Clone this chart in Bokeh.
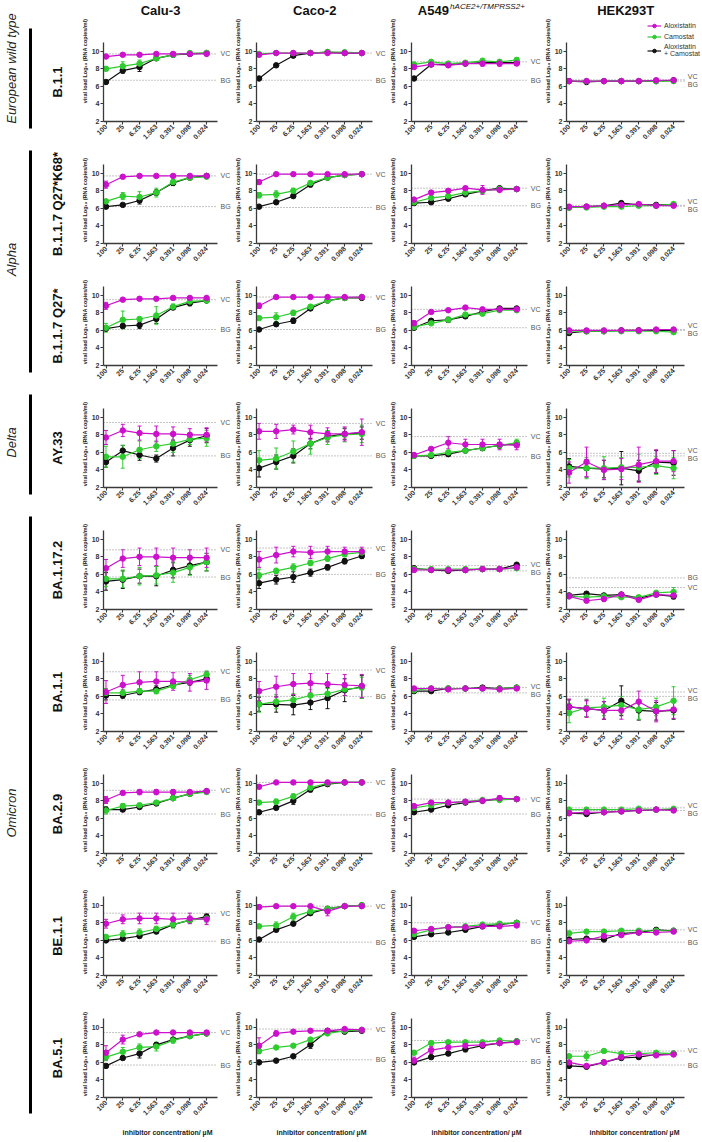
import numpy as np
from bokeh.plotting import figure
from bokeh.models import (Range1d, FixedTicker, Label, Whisker, TeeHead,
                          ColumnDataSource, Legend, LegendItem)
from bokeh.layouts import row, column
from bokeh.embed import file_html
from bokeh.resources import INLINE
from bokeh.core.properties import value

# ---------------------------------------------------------------- data
CONCENTRATIONS = ["100", "25", "6.25", "1.563", "0.391", "0.098", "0.024"]
CELL_LINES = ["Calu-3", "Caco-2", "A549", "HEK293T"]
VARIANTS = ["B.1.1", "B.1.1.7 Q27*K68*", "B.1.1.7 Q27*", "AY.33", "BA.1.17.2",
            "BA.1.1", "BA.2.9", "BE.1.1", "BA.5.1"]
LINEAGES = ["European wild type", "Alpha", "Delta", "Omicron"]
LINEAGE_ROWS = [(0, 0), (1, 2), (3, 3), (4, 8)]
SERIES = ["Aloxistatin", "Camostat", "Aloxistatin\n+ Camostat"]

# Calu-3: mean viral load (log10) per variant, and SD
CALU3_ALOX = [
    [9.4, 9.6, 9.6, 9.7, 9.7, 9.7, 9.7],
    [8.7, 9.6, 9.7, 9.7, 9.7, 9.7, 9.7],
    [8.8, 9.5, 9.6, 9.6, 9.7, 9.7, 9.7],
    [7.7, 8.5, 8.2, 8.1, 8.1, 8.0, 8.0],
    [6.7, 7.8, 8.0, 8.0, 7.9, 7.9, 7.9],
    [6.5, 7.3, 7.6, 7.7, 7.7, 7.6, 7.8],
    [8.1, 8.9, 9.0, 9.0, 9.0, 9.0, 9.1],
    [7.9, 8.4, 8.5, 8.5, 8.4, 8.5, 8.4],
    [7.1, 8.6, 9.2, 9.4, 9.4, 9.4, 9.4],
]
CALU3_ALOX_SD = [
    [0.1, 0.1, 0.1, 0.1, 0.1, 0.1, 0.1],
    [0.4, 0.1, 0.1, 0.1, 0.1, 0.1, 0.1],
    [0.4, 0.1, 0.2, 0.2, 0.1, 0.1, 0.1],
    [0.8, 0.7, 0.8, 0.9, 0.8, 0.7, 0.8],
    [1.0, 1.0, 1.0, 1.0, 1.1, 0.9, 1.1],
    [1.3, 1.1, 1.2, 1.1, 1.0, 1.0, 1.0],
    [0.4, 0.2, 0.3, 0.3, 0.3, 0.2, 0.2],
    [0.5, 0.5, 0.6, 0.6, 0.7, 0.6, 0.6],
    [0.8, 0.5, 0.1, 0.1, 0.1, 0.1, 0.2],
]
CALU3_CAMO = [
    [8.0, 8.3, 8.6, 9.2, 9.6, 9.8, 9.8],
    [6.8, 7.4, 7.3, 7.8, 9.0, 9.5, 9.6],
    [6.3, 7.2, 7.3, 7.7, 8.7, 9.3, 9.4],
    [5.5, 5.5, 6.3, 6.7, 7.0, 7.5, 7.6],
    [5.5, 5.5, 5.8, 5.9, 6.2, 6.8, 7.4],
    [6.4, 6.4, 6.6, 6.6, 7.2, 7.9, 8.5],
    [6.9, 7.4, 7.5, 7.8, 8.3, 8.8, 9.0],
    [6.4, 6.7, 6.9, 7.3, 7.8, 8.3, 8.5],
    [6.6, 7.2, 7.7, 7.8, 8.5, 9.0, 9.3],
]
CALU3_CAMO_SD = [
    [0.1, 0.5, 0.4, 0.1, 0.1, 0.1, 0.1],
    [0.2, 0.4, 0.6, 0.5, 0.3, 0.2, 0.1],
    [0.5, 1.0, 0.2, 1.0, 0.3, 0.2, 0.1],
    [1.2, 1.3, 1.0, 0.6, 1.0, 0.6, 0.9],
    [0.9, 1.0, 1.0, 1.0, 1.1, 0.9, 1.0],
    [0.5, 0.4, 0.3, 0.3, 0.3, 0.5, 0.4],
    [0.4, 0.3, 0.2, 0.2, 0.2, 0.1, 0.2],
    [0.2, 0.4, 0.4, 0.3, 0.4, 0.3, 0.5],
    [0.4, 0.5, 0.4, 0.5, 0.3, 0.1, 0.1],
]
CALU3_COMBO = [
    [6.5, 7.8, 8.2, 9.2, 9.6, 9.7, 9.8],
    [6.2, 6.4, 6.9, 7.8, 8.9, 9.5, 9.7],
    [6.2, 6.5, 6.6, 7.3, 8.6, 9.1, 9.4],
    [4.9, 6.2, 5.7, 5.3, 6.5, 7.4, 7.9],
    [5.2, 5.4, 5.8, 5.8, 6.5, 7.0, 7.4],
    [6.1, 6.1, 6.5, 6.8, 7.3, 7.6, 8.0],
    [7.0, 7.0, 7.3, 7.7, 8.3, 8.8, 9.1],
    [6.0, 6.2, 6.5, 7.0, 7.8, 8.3, 8.7],
    [5.6, 6.5, 7.0, 8.0, 8.6, 9.0, 9.3],
]
CALU3_COMBO_SD = [
    [0.1, 0.3, 0.5, 0.1, 0.1, 0.1, 0.1],
    [0.1, 0.1, 0.4, 0.3, 0.3, 0.2, 0.1],
    [0.1, 0.3, 0.4, 0.5, 0.2, 0.3, 0.1],
    [0.6, 0.6, 0.6, 0.4, 0.9, 0.7, 0.8],
    [1.0, 1.0, 0.8, 1.1, 0.9, 1.0, 1.0],
    [0.5, 0.3, 0.3, 0.4, 0.4, 0.3, 0.4],
    [0.3, 0.2, 0.2, 0.2, 0.2, 0.1, 0.1],
    [0.1, 0.1, 0.2, 0.2, 0.3, 0.3, 0.3],
    [0.1, 0.2, 0.5, 0.2, 0.2, 0.1, 0.1],
]
CALU3_VC = [9.7, 9.7, 9.5, 9.4, 8.8, 8.8, 9.2, 9.1, 9.4]
CALU3_BG = [6.7, 6.2, 6.1, 5.6, 5.7, 5.6, 6.5, 5.9, 5.7]

# Caco-2
CACO2_ALOX = [
    [9.6, 9.8, 9.8, 9.8, 9.8, 9.8, 9.8],
    [9.0, 9.9, 9.9, 9.9, 9.9, 9.9, 9.9],
    [8.8, 9.8, 9.8, 9.8, 9.8, 9.8, 9.8],
    [8.4, 8.4, 8.6, 8.3, 8.1, 8.1, 8.3],
    [7.7, 8.2, 8.6, 8.5, 8.6, 8.6, 8.6],
    [6.6, 7.1, 7.4, 7.5, 7.4, 7.3, 7.2],
    [9.6, 10.1, 10.1, 10.1, 10.1, 10.1, 10.1],
    [9.8, 9.9, 9.9, 9.9, 9.3, 9.9, 9.9],
    [7.9, 9.3, 9.5, 9.6, 9.6, 9.8, 9.7],
]
CACO2_ALOX_SD = [
    [0.1, 0.1, 0.1, 0.1, 0.1, 0.1, 0.1],
    [0.2, 0.1, 0.1, 0.1, 0.1, 0.1, 0.1],
    [0.3, 0.1, 0.1, 0.1, 0.1, 0.1, 0.1],
    [0.9, 0.8, 0.5, 0.8, 0.7, 0.8, 1.5],
    [0.9, 0.9, 0.6, 0.7, 0.6, 0.5, 0.5],
    [1.1, 1.2, 1.2, 1.1, 1.2, 1.2, 1.3],
    [0.1, 0.1, 0.1, 0.1, 0.1, 0.1, 0.1],
    [0.1, 0.1, 0.1, 0.1, 0.5, 0.1, 0.1],
    [0.9, 0.3, 0.1, 0.1, 0.1, 0.1, 0.1],
]
CACO2_CAMO = [
    [9.7, 9.8, 9.8, 9.8, 9.9, 9.9, 9.8],
    [7.5, 7.6, 8.0, 8.9, 9.5, 9.8, 9.9],
    [7.4, 7.5, 8.0, 8.7, 9.4, 9.7, 9.8],
    [5.1, 5.3, 6.1, 7.0, 7.7, 8.0, 8.1],
    [5.9, 6.4, 6.8, 7.3, 7.8, 8.3, 8.5],
    [5.1, 5.4, 5.6, 6.1, 6.3, 6.8, 7.0],
    [7.8, 7.9, 8.5, 9.5, 10.0, 10.1, 10.1],
    [7.6, 7.7, 8.7, 9.3, 9.6, 9.9, 10.0],
    [7.3, 7.7, 7.9, 8.6, 9.3, 9.6, 9.7],
]
CACO2_CAMO_SD = [
    [0.1, 0.1, 0.1, 0.1, 0.1, 0.1, 0.1],
    [0.3, 0.4, 0.3, 0.2, 0.1, 0.1, 0.1],
    [0.15, 0.5, 0.3, 0.2, 0.1, 0.1, 0.1],
    [1.1, 1.2, 1.2, 1.2, 0.8, 0.8, 1.0],
    [0.7, 0.3, 0.4, 0.3, 0.3, 0.3, 0.4],
    [0.9, 0.8, 0.7, 0.7, 0.6, 0.7, 1.2],
    [0.1, 0.3, 0.3, 0.3, 0.1, 0.1, 0.1],
    [0.1, 0.4, 0.4, 0.1, 0.1, 0.1, 0.1],
    [0.3, 0.1, 0.1, 0.1, 0.1, 0.1, 0.1],
]
CACO2_COMBO = [
    [6.9, 8.4, 9.5, 9.8, 9.9, 9.8, 9.8],
    [6.2, 6.7, 7.4, 8.7, 9.5, 9.8, 9.9],
    [6.1, 6.7, 7.1, 8.5, 9.4, 9.7, 9.7],
    [4.2, 4.9, 5.6, 7.0, 7.8, 8.1, 8.2],
    [5.0, 5.4, 5.7, 6.2, 6.8, 7.5, 8.1],
    [5.1, 5.1, 5.0, 5.3, 5.8, 6.7, 7.1],
    [6.7, 7.2, 8.0, 9.3, 9.9, 10.1, 10.1],
    [6.1, 7.2, 7.9, 9.1, 9.6, 9.9, 10.0],
    [6.0, 6.2, 6.7, 8.0, 9.6, 9.5, 9.6],
]
CACO2_COMBO_SD = [
    [0.1, 0.1, 0.1, 0.1, 0.1, 0.1, 0.1],
    [0.1, 0.2, 0.2, 0.1, 0.1, 0.1, 0.1],
    [0.1, 0.2, 0.3, 0.1, 0.1, 0.1, 0.1],
    [1.0, 0.8, 0.8, 0.6, 0.6, 0.6, 0.7],
    [0.6, 0.5, 0.6, 0.4, 0.3, 0.3, 0.3],
    [0.8, 0.9, 1.1, 0.8, 1.2, 1.3, 1.3],
    [0.1, 0.2, 0.4, 0.3, 0.1, 0.1, 0.1],
    [0.1, 0.1, 0.1, 0.1, 0.1, 0.1, 0.1],
    [0.2, 0.1, 0.1, 0.4, 0.1, 0.1, 0.1],
]
CACO2_VC = [9.8, 9.9, 9.8, 9.3, 9.0, 9.0, 10.1, 9.9, 9.8]
CACO2_BG = [6.7, 6.1, 6.1, 5.6, 6.0, 6.0, 6.4, 5.8, 6.3]

# A549 hACE2+/TMPRSS2+
A549_ALOX = [
    [8.2, 8.5, 8.4, 8.6, 8.6, 8.6, 8.6],
    [7.0, 7.8, 8.0, 8.3, 8.1, 8.1, 8.2],
    [6.8, 8.1, 8.3, 8.6, 8.4, 8.4, 8.4],
    [5.7, 6.4, 7.1, 6.9, 6.9, 6.9, 6.8],
    [6.5, 6.5, 6.5, 6.5, 6.6, 6.6, 6.8],
    [6.9, 6.9, 6.8, 6.9, 6.9, 6.8, 6.9],
    [7.4, 7.8, 7.8, 7.9, 8.0, 8.3, 8.2],
    [7.1, 7.3, 7.5, 7.5, 7.6, 7.6, 7.7],
    [6.2, 7.4, 7.7, 7.9, 8.0, 8.2, 8.3],
]
A549_ALOX_SD = [
    [0.1, 0.1, 0.2, 0.2, 0.3, 0.3, 0.2],
    [0.2, 0.2, 0.2, 0.2, 0.5, 0.1, 0.2],
    [0.3, 0.1, 0.1, 0.1, 0.1, 0.1, 0.1],
    [0.2, 0.1, 0.7, 0.6, 0.6, 0.6, 0.5],
    [0.2, 0.2, 0.2, 0.2, 0.2, 0.2, 0.2],
    [0.2, 0.2, 0.2, 0.2, 0.2, 0.2, 0.2],
    [0.2, 0.1, 0.1, 0.1, 0.1, 0.3, 0.1],
    [0.1, 0.1, 0.1, 0.1, 0.1, 0.1, 0.1],
    [0.4, 0.4, 0.4, 0.4, 0.3, 0.1, 0.1],
]
A549_CAMO = [
    [8.5, 8.8, 8.6, 8.7, 8.9, 8.8, 9.0],
    [6.7, 7.2, 7.4, 7.8, 8.0, 8.2, 8.2],
    [6.4, 6.8, 7.2, 7.8, 7.9, 8.3, 8.3],
    [5.6, 5.7, 6.0, 6.2, 6.5, 6.8, 7.1],
    [6.6, 6.6, 6.6, 6.6, 6.6, 6.6, 6.7],
    [6.7, 6.9, 6.9, 6.9, 6.9, 6.9, 7.0],
    [7.2, 7.5, 7.8, 7.9, 8.1, 8.1, 8.2],
    [6.7, 7.2, 7.5, 7.6, 7.8, 7.9, 8.0],
    [7.1, 8.2, 8.3, 8.3, 8.3, 8.5, 8.4],
]
A549_CAMO_SD = [
    [0.2, 0.2, 0.1, 0.2, 0.3, 0.2, 0.3],
    [0.1, 0.1, 0.1, 0.1, 0.1, 0.1, 0.1],
    [0.1, 0.1, 0.1, 0.2, 0.2, 0.1, 0.1],
    [0.1, 0.1, 0.1, 0.1, 0.2, 0.3, 0.4],
    [0.1, 0.1, 0.1, 0.1, 0.1, 0.1, 0.1],
    [0.1, 0.1, 0.1, 0.1, 0.1, 0.1, 0.1],
    [0.1, 0.1, 0.1, 0.1, 0.1, 0.1, 0.1],
    [0.1, 0.1, 0.1, 0.1, 0.1, 0.1, 0.1],
    [0.2, 0.1, 0.1, 0.1, 0.1, 0.1, 0.1],
]
A549_COMBO = [
    [6.9, 8.5, 8.5, 8.6, 8.7, 8.7, 8.7],
    [6.6, 6.7, 7.1, 7.6, 8.0, 8.3, 8.2],
    [6.3, 7.1, 7.2, 7.6, 8.1, 8.5, 8.5],
    [5.6, 5.6, 5.8, 6.2, 6.5, 6.8, 7.0],
    [6.7, 6.5, 6.4, 6.5, 6.6, 6.6, 7.1],
    [6.6, 6.6, 6.9, 6.9, 7.0, 6.9, 7.0],
    [6.7, 7.0, 7.5, 7.8, 8.0, 8.2, 8.2],
    [6.4, 6.7, 6.9, 7.2, 7.6, 7.8, 8.0],
    [6.0, 6.6, 7.0, 7.5, 7.9, 8.2, 8.4],
]
A549_COMBO_SD = [
    [0.1, 0.1, 0.1, 0.1, 0.1, 0.1, 0.1],
    [0.1, 0.1, 0.1, 0.1, 0.1, 0.1, 0.1],
    [0.1, 0.2, 0.3, 0.2, 0.1, 0.1, 0.1],
    [0.1, 0.1, 0.2, 0.2, 0.3, 0.3, 0.3],
    [0.1, 0.1, 0.1, 0.1, 0.1, 0.1, 0.1],
    [0.1, 0.1, 0.1, 0.1, 0.1, 0.1, 0.1],
    [0.1, 0.1, 0.1, 0.1, 0.1, 0.1, 0.1],
    [0.1, 0.1, 0.1, 0.1, 0.1, 0.1, 0.1],
    [0.1, 0.2, 0.2, 0.3, 0.2, 0.1, 0.1],
]
A549_VC = [8.8, 8.3, 8.4, 7.8, 7.0, 7.0, 8.2, 8.0, 8.5]
A549_BG = [6.7, 6.3, 6.3, 5.5, 6.4, 6.4, 6.5, 5.9, 6.1]

# HEK293T
HEK_ALOX = [
    [6.6, 6.6, 6.6, 6.6, 6.6, 6.7, 6.7],
    [6.2, 6.2, 6.3, 6.4, 6.5, 6.3, 6.3],
    [6.0, 6.0, 6.0, 6.0, 6.0, 6.1, 6.1],
    [3.7, 4.9, 4.0, 4.1, 4.6, 5.0, 5.0],
    [3.5, 3.0, 3.2, 3.7, 3.1, 3.7, 3.6],
    [4.8, 4.6, 4.4, 4.4, 5.4, 4.3, 4.5],
    [6.6, 6.7, 6.7, 6.8, 6.9, 7.0, 6.9],
    [5.9, 6.0, 6.5, 6.6, 6.9, 6.9, 7.0],
    [6.0, 5.6, 6.0, 6.6, 6.9, 6.8, 6.9],
]
HEK_ALOX_SD = [
    [0.1, 0.1, 0.1, 0.1, 0.1, 0.1, 0.1],
    [0.1, 0.1, 0.1, 0.1, 0.1, 0.1, 0.1],
    [0.1, 0.1, 0.1, 0.1, 0.1, 0.1, 0.1],
    [1.2, 1.7, 1.1, 1.2, 2.0, 1.3, 1.2],
    [0.1, 0.2, 0.3, 0.1, 0.1, 0.1, 0.3],
    [0.9, 1.0, 1.0, 1.0, 1.2, 1.2, 1.0],
    [0.1, 0.1, 0.1, 0.1, 0.1, 0.1, 0.1],
    [0.1, 0.1, 0.1, 0.1, 0.1, 0.1, 0.1],
    [0.1, 0.1, 0.1, 0.1, 0.1, 0.1, 0.1],
]
HEK_CAMO = [
    [6.6, 6.6, 6.6, 6.6, 6.6, 6.6, 6.6],
    [6.1, 6.1, 6.2, 6.2, 6.3, 6.3, 6.5],
    [5.9, 5.9, 5.9, 5.9, 5.9, 5.9, 5.8],
    [4.2, 4.2, 4.2, 4.3, 4.3, 4.5, 4.2],
    [3.5, 3.4, 3.5, 3.4, 3.4, 3.9, 4.0],
    [4.1, 4.7, 4.8, 5.0, 4.5, 4.8, 5.5],
    [7.0, 7.0, 7.0, 7.0, 7.1, 7.0, 7.1],
    [6.8, 7.0, 7.0, 7.1, 7.1, 7.1, 7.1],
    [6.7, 6.7, 7.3, 7.0, 7.0, 7.1, 7.0],
]
HEK_CAMO_SD = [
    [0.1, 0.1, 0.1, 0.1, 0.1, 0.1, 0.1],
    [0.1, 0.1, 0.1, 0.1, 0.1, 0.1, 0.1],
    [0.1, 0.1, 0.1, 0.1, 0.1, 0.1, 0.1],
    [1.0, 1.2, 1.3, 1.1, 1.5, 1.0, 1.2],
    [0.1, 0.3, 0.2, 0.1, 0.1, 0.1, 0.5],
    [1.1, 1.0, 1.0, 1.0, 1.1, 1.0, 1.6],
    [0.1, 0.1, 0.1, 0.1, 0.1, 0.1, 0.1],
    [0.1, 0.1, 0.1, 0.1, 0.1, 0.1, 0.1],
    [0.1, 0.5, 0.1, 0.1, 0.1, 0.1, 0.1],
]
HEK_COMBO = [
    [6.6, 6.5, 6.6, 6.6, 6.6, 6.6, 6.7],
    [6.1, 6.2, 6.3, 6.6, 6.4, 6.4, 6.4],
    [5.7, 5.9, 5.9, 6.0, 6.0, 6.0, 6.0],
    [4.4, 4.2, 4.1, 4.2, 3.9, 4.9, 4.8],
    [3.6, 3.8, 3.6, 3.7, 3.3, 3.7, 3.5],
    [4.8, 4.6, 4.4, 5.5, 4.4, 4.3, 4.4],
    [6.6, 6.5, 6.7, 6.8, 6.9, 7.0, 7.0],
    [6.1, 6.2, 6.1, 6.8, 6.9, 7.2, 7.1],
    [5.6, 5.5, 6.0, 6.5, 6.6, 6.9, 7.0],
]
HEK_COMBO_SD = [
    [0.1, 0.1, 0.1, 0.1, 0.1, 0.1, 0.1],
    [0.1, 0.1, 0.1, 0.1, 0.1, 0.1, 0.1],
    [0.1, 0.1, 0.1, 0.1, 0.1, 0.1, 0.1],
    [0.9, 1.0, 1.0, 1.9, 1.2, 1.3, 1.4],
    [0.1, 0.2, 0.2, 0.2, 0.2, 0.1, 0.3],
    [0.8, 0.9, 1.0, 1.7, 1.1, 1.0, 1.0],
    [0.1, 0.1, 0.1, 0.1, 0.1, 0.1, 0.1],
    [0.1, 0.1, 0.1, 0.1, 0.1, 0.1, 0.1],
    [0.1, 0.1, 0.1, 0.1, 0.1, 0.1, 0.1],
]
HEK_VC = [6.75, 6.35, 6.1, 5.9, 4.5, 6.5, 7.2, 7.2, 7.3]
HEK_BG = [6.6, 6.25, 6.0, 5.6, 5.6, 6.0, 6.9, 5.8, 5.7]

# lookup tables built from the arrays above
MEANS = [
    [CALU3_ALOX, CALU3_CAMO, CALU3_COMBO],
    [CACO2_ALOX, CACO2_CAMO, CACO2_COMBO],
    [A549_ALOX, A549_CAMO, A549_COMBO],
    [HEK_ALOX, HEK_CAMO, HEK_COMBO],
]
SDS = [
    [CALU3_ALOX_SD, CALU3_CAMO_SD, CALU3_COMBO_SD],
    [CACO2_ALOX_SD, CACO2_CAMO_SD, CACO2_COMBO_SD],
    [A549_ALOX_SD, A549_CAMO_SD, A549_COMBO_SD],
    [HEK_ALOX_SD, HEK_CAMO_SD, HEK_COMBO_SD],
]
VC = [CALU3_VC, CACO2_VC, A549_VC, HEK_VC]
BG = [CALU3_BG, CACO2_BG, A549_BG, HEK_BG]

# ---------------------------------------------------------------- styling / layout
FONT = "Liberation Sans"
COLORS = ["#CC10CC", "#2ECC2E", "#111111"]   # Aloxistatin, Camostat, combination
AXIS_COLOR = "#3a3a3a"
REF_COLOR = "#8a8a8a"

LEFT_W = 73
COL_WIDTHS = [158, 155, 155, 161]
COL_LEFT = [30, 21, 22, 22]
COL_FRAME = [114, 120, 119, 121]       # width of the plotted x extent
FRAME_H = 79                           # height of the plotted y extent
ROW_TOP = [42] + [8] * 8
ROW_BOTTOM = [35] * 8 + [45]
X_START, X_END = -0.15, 6.65
Y_START, Y_END = 2, 11
PPU = FRAME_H / (Y_END - Y_START)

TOTAL_H = sum(t + FRAME_H + b for t, b in zip(ROW_TOP, ROW_BOTTOM))
FRAME_TOPS = []
acc = 0
for t, b in zip(ROW_TOP, ROW_BOTTOM):
    FRAME_TOPS.append(acc + t)
    acc += t + FRAME_H + b


def label_positions(vc, bg, min_gap_px=8.0):
    gap = abs(vc - bg) * PPU
    if gap >= min_gap_px:
        return vc, bg
    shift = (min_gap_px - gap) / 2 / PPU
    if vc >= bg:
        return vc + shift, bg - shift
    return vc - shift, bg + shift


def make_panel(r, c):
    width = COL_WIDTHS[c]
    left = COL_LEFT[c]
    right = width - left - COL_FRAME[c]
    top, bottom = ROW_TOP[r], ROW_BOTTOM[r]
    ppx = COL_FRAME[c] / (X_END - X_START)
    # the frame also covers the margin on the right and on top, so that the
    # VC/BG tags, column headers and legend are drawn inside it
    x_hi = X_END + right / ppx
    y_hi = Y_END + top / PPU
    p = figure(width=width, height=top + FRAME_H + bottom,
               x_range=Range1d(X_START, x_hi), y_range=Range1d(Y_START, y_hi),
               min_border_left=left, min_border_right=0,
               min_border_top=0, min_border_bottom=bottom,
               toolbar_location=None, tools="", output_backend="svg")
    p.outline_line_color = None
    p.grid.visible = False
    p.background_fill_color = "white"
    p.border_fill_color = "white"

    for ax in (p.xaxis, p.yaxis):
        ax.axis_line_color = AXIS_COLOR
        ax.axis_line_width = 1.3
        ax.major_tick_line_color = AXIS_COLOR
        ax.major_tick_line_width = 1.1
        ax.major_tick_in = 0
        ax.major_tick_out = 3
        ax.minor_tick_line_color = None
        ax.major_label_text_font = FONT
        ax.major_label_text_font_size = "7px"
        ax.major_label_text_font_style = "bold"
        ax.major_label_text_color = "#333333"
        ax.major_label_standoff = 1
        ax.axis_label_text_font = FONT
        ax.axis_label_text_font_style = "bold"
        ax.axis_label_text_color = "#222222"

    p.xaxis.bounds = (X_START, X_END)
    p.yaxis.bounds = (Y_START, Y_END)
    p.xaxis.ticker = FixedTicker(ticks=list(range(len(CONCENTRATIONS))))
    p.xaxis.major_label_overrides = {i: s for i, s in enumerate(CONCENTRATIONS)}
    p.xaxis.major_label_orientation = np.pi / 4
    p.yaxis.ticker = FixedTicker(ticks=[2, 4, 6, 8, 10])
    p.yaxis.axis_label = "viral load Log\u2081\u2080 (RNA copies/ml)"
    p.yaxis.axis_label_text_font_size = "5.5px"
    p.yaxis.axis_label_standoff = 1
    if r == len(VARIANTS) - 1:
        p.xaxis.axis_label = "inhibitor concentration/ \u00b5M"
        p.xaxis.axis_label_text_font_size = "7px"
        p.xaxis.axis_label_standoff = 9

    # virus control / background reference lines with their tags
    vc, bg = VC[c][r], BG[c][r]
    p.segment(x0=[X_START, X_START], y0=[vc, bg], x1=[X_END, X_END], y1=[vc, bg],
              line_color=REF_COLOR, line_width=1, line_dash="1 2")
    vc_y, bg_y = label_positions(vc, bg)
    for txt, yy in (("VC", vc_y), ("BG", bg_y)):
        p.add_layout(Label(x=X_END + 3 / ppx, y=yy, text=txt, text_font=FONT,
                           text_font_size="7px", text_color="#555555",
                           text_baseline="middle", text_align="left"))

    renderers = {}
    for s in (2, 1, 0):
        means = MEANS[c][s][r]
        sds = SDS[c][s][r]
        src = ColumnDataSource(dict(
            x=list(range(len(CONCENTRATIONS))), y=means,
            lo=[m - d for m, d in zip(means, sds)],
            hi=[m + d for m, d in zip(means, sds)]))
        col = COLORS[s]
        ln = p.line("x", "y", source=src, line_color=col, line_width=1.2)
        p.add_layout(Whisker(source=src, base="x", lower="lo", upper="hi",
                             line_color=col, line_width=1,
                             upper_head=TeeHead(size=4, line_color=col, line_width=1),
                             lower_head=TeeHead(size=4, line_color=col, line_width=1)))
        sc = p.scatter("x", "y", source=src, size=5.5, marker="circle",
                       fill_color=col, line_color=col)
        renderers[s] = [ln, sc]

    if r == 0:
        cx = (X_START + X_END) / 2
        y_head = Y_END + (top - 10) / PPU
        if CELL_LINES[c] == "A549":
            p.add_layout(Label(x=cx - 53 / ppx, y=y_head, text="A549", text_font=FONT,
                               text_font_size="13px", text_font_style="bold",
                               text_color="#111111", text_align="left",
                               text_baseline="middle"))
            p.add_layout(Label(x=cx - 20 / ppx, y=Y_END + (top - 6) / PPU,
                               text="hACE2+/TMPRSS2+", text_font=FONT,
                               text_font_size="8px", text_font_style="italic",
                               text_color="#111111", text_align="left",
                               text_baseline="middle"))
        else:
            p.add_layout(Label(x=cx, y=y_head, text=CELL_LINES[c], text_font=FONT,
                               text_font_size="13px", text_font_style="bold",
                               text_color="#111111", text_align="center",
                               text_baseline="middle"))
        if c == len(CELL_LINES) - 1:
            legend = Legend(items=[LegendItem(label=SERIES[s], renderers=renderers[s])
                                   for s in (0, 1, 2)],
                            location=(81, 64), background_fill_alpha=0,
                            border_line_alpha=0, label_text_font=FONT,
                            label_text_font_size="7px", label_text_color="#333333",
                            glyph_width=14, glyph_height=9, label_height=9,
                            label_standoff=3, spacing=2, padding=0, margin=0)
            p.add_layout(legend)
    return p


# ---------------------------------------------------------------- row labels
side = figure(width=LEFT_W, height=TOTAL_H, x_range=Range1d(0, LEFT_W),
              y_range=Range1d(TOTAL_H, 0), min_border=0, toolbar_location=None,
              tools="", output_backend="svg")
side.axis.visible = False
side.grid.visible = False
side.outline_line_color = None
side.border_fill_color = "white"

centers = [t + FRAME_H / 2 for t in FRAME_TOPS]
side.text(x=[57] * len(VARIANTS), y=centers, text=VARIANTS, angle=np.pi / 2,
          text_font=value(FONT), text_font_size="13px", text_font_style="bold",
          text_color="#111111", text_align="center", text_baseline="middle")

bar_y0, bar_y1, lab_y = [], [], []
for i, (a, b) in enumerate(LINEAGE_ROWS):
    y0 = FRAME_TOPS[a] - 14
    y1 = FRAME_TOPS[b] + FRAME_H + (16 if b == len(VARIANTS) - 1 else 7)
    bar_y0.append(y0)
    bar_y1.append(y1)
    lab_y.append((y0 + y1) / 2 - (10 if i == 0 else 2))
side.segment(x0=[30] * 4, y0=bar_y0, x1=[30] * 4, y1=bar_y1,
             line_color="black", line_width=3)
side.text(x=[11] * 4, y=lab_y, text=LINEAGES, angle=np.pi / 2,
          text_font=value(FONT), text_font_size="13px", text_font_style="italic",
          text_color="#222222", text_align="center", text_baseline="middle")

grid_rows = [row([make_panel(r, c) for c in range(len(CELL_LINES))], spacing=0)
             for r in range(len(VARIANTS))]
layout = row([side, column(grid_rows, spacing=0)], spacing=0)

open("out.html", "w").write(file_html(layout, INLINE))
